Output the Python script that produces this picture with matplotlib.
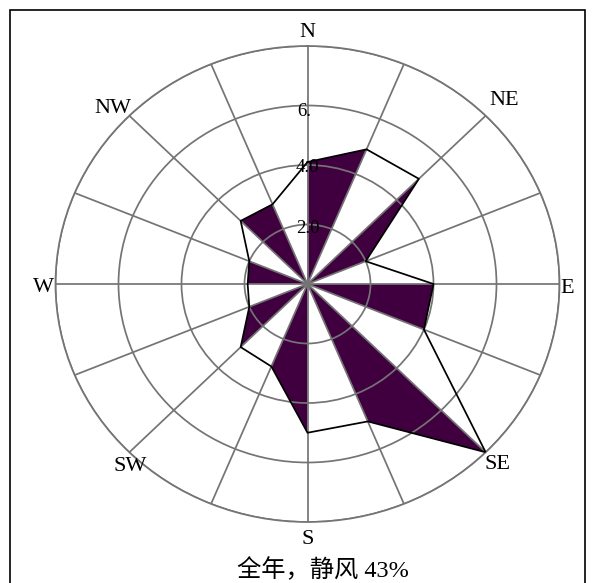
import matplotlib
matplotlib.use('Agg')
import numpy as np
import matplotlib.pyplot as plt
from matplotlib.patches import Rectangle

# ---- data ----
directions = ['N', 'NNE', 'NE', 'ENE', 'E', 'ESE', 'SE', 'SSE',
              'S', 'SSW', 'SW', 'WSW', 'W', 'WNW', 'NW', 'NNW']
freq = [4.1, 4.9, 5.0, 2.0, 4.0, 4.0, 8.0, 5.0,
        5.0, 3.0, 3.0, 2.0, 1.9, 2.0, 3.0, 2.9]
ring_values = [2, 4, 6, 8]
ring_labels = ['2.0', '4.0', '6.', '']
compass_labels = ['N', 'NE', 'E', 'SE', 'S', 'SW', 'W', 'NW']
title_text = '全年，静风 43%'

# ---- layout / style ----
W, H = 595, 583
purple = '#400040'
grid_gray = '#747474'
serif = ['Liberation Serif', 'DejaVu Serif']

fig = plt.figure(figsize=(W / 100, H / 100), dpi=100)
ax = fig.add_axes([55.5 / W, 61 / H, 504 / W, 476 / H], projection='polar')
ax.set_aspect('auto')
ax.set_theta_zero_location('N')
ax.set_theta_direction(-1)
ax.set_ylim(0, 8)

theta = np.deg2rad(np.arange(len(directions)) * 360.0 / len(directions))

# filled sectors (every other pair of directions)
for i in range(0, len(directions), 2):
    j = (i + 1) % len(directions)
    ax.fill([theta[i], theta[i], theta[j]], [0, freq[i], freq[j]],
            facecolor=purple, edgecolor='none', zorder=1)

# outline polygon through all directions
ax.plot(np.append(theta, theta[0]), freq + [freq[0]], color='black', lw=1.25, zorder=3)

ax.set_xticks(theta)
ax.set_xticklabels([])
ax.set_yticks(ring_values)
ax.set_yticklabels([])
ax.tick_params(length=0)
ax.grid(True, color=grid_gray, lw=1.25)
ax.set_axisbelow(False)
ax.spines['polar'].set_color(grid_gray)
ax.spines['polar'].set_linewidth(1.25)

# radial labels on north spoke
label_r = [1.85, 3.9, 5.79, 8]
for lab, r in zip(ring_labels, label_r):
    if not lab:
        continue
    if lab == '6.':
        ax.annotate(lab, (0, r), xytext=(2.5, 0), textcoords='offset points',
                    ha='right', va='center', fontsize=13.5, family=serif, zorder=4)
    else:
        ax.text(0, r, lab, ha='center', va='center', fontsize=13.5, family=serif, zorder=4)

# compass labels
comp_pos = {'N': (0, 8.44), 'NE': (45.3, 8.78), 'E': (91.0, 8.24), 'SE': (135.2, 8.57),
            'S': (180, 8.6), 'SW': (222.6, 8.32), 'W': (269.1, 8.38), 'NW': (313.6, 8.55)}
for lab in compass_labels:
    t, r = comp_pos[lab]
    ax.text(np.deg2rad(t), r, lab, ha='center', va='center', fontsize=16, family=serif)

# caption
fig.text(323 / W, 1 - 570 / H, title_text, ha='center', va='center', fontsize=17.5,
         family=['Liberation Serif', 'Noto Sans CJK SC'])

# chart frame
fig.patches.append(Rectangle((10 / W, -0.1), 575 / W, 1 - 10 / H + 0.1,
                             transform=fig.transFigure, fill=False,
                             edgecolor='black', lw=1.2))

fig.savefig('out.png', dpi=100)
